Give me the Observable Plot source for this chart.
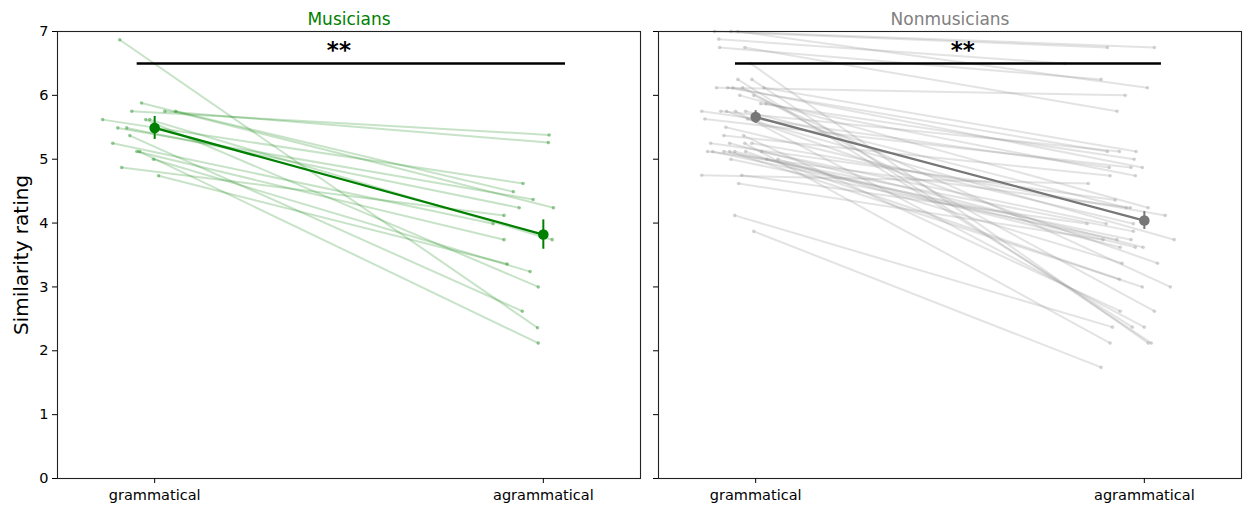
<!DOCTYPE html>
<html>
<head>
<meta charset="utf-8">
<script src="https://cdn.jsdelivr.net/npm/d3@7"></script>
<script src="https://cdn.jsdelivr.net/npm/@observablehq/plot@0.6"></script>
<style>
  html, body { margin: 0; padding: 0; background: #fff; }
  #wrap { position: relative; width: 1249px; height: 506px; font-family: "DejaVu Sans", sans-serif; color: #000; }
  #wrap svg { position: absolute; top: 0; }
</style>
</head>
<body>
<div id="wrap"></div>
<script>
// ---- data ----
const conditions = ["grammatical", "agrammatical"];
const yTicks = [0, 1, 2, 3, 4, 5, 6, 7];

// Musicians: per-subject ratings and horizontal jitter (x units)
const musGram = [6.87, 5.88, 5.75, 5.75, 5.75, 5.62, 5.62, 5.62, 5.49, 5.49, 5.37, 5.25, 5.12, 5.12, 5.0, 4.87, 4.74];
const musAgram = [2.36, 4.24, 5.38, 5.26, 4.49, 4.62, 3.0, 3.74, 4.37, 4.24, 2.62, 3.99, 3.74, 2.12, 3.24, 4.12, 3.36];
const musGramJit = [-0.090, -0.034, -0.059, 0.026, 0.054, -0.134, -0.023, -0.013, -0.095, -0.072, -0.064, -0.108, -0.046, -0.039, -0.003, -0.085, 0.010];
const musAgramJit = [-0.015, 0.026, 0.015, 0.013, -0.077, -0.052, -0.013, 0.023, -0.026, -0.062, -0.054, -0.129, -0.101, -0.013, -0.034, -0.101, -0.093];
const musMean = [5.49, 3.82];
const musErr = [0.18, 0.23];

// Nonmusicians
const nonGram = [7.0, 7.0, 7.0, 6.88, 6.75, 6.75, 6.5, 6.25, 6.25, 6.12, 6.12, 6.12, 6.12, 6.12, 6.0, 6.0, 5.87, 5.87,
  5.75, 5.75, 5.75, 5.75, 5.75, 5.63, 5.63, 5.5, 5.37, 5.37, 5.25, 5.25, 5.25, 5.25, 5.12, 5.12, 5.12, 5.12, 5.12, 5.12, 5.12,
  5.0, 5.0, 5.0, 4.75, 4.75, 4.62, 4.12, 3.87];
const nonAgram = [6.75, 6.75, 6.12, 6.5, 6.25, 5.75, 2.12, 2.37, 2.12, 6.0, 5.12, 4.87, 2.62, 5.12, 4.24, 3.0, 5.0, 4.74,
  4.87, 5.12, 3.37, 2.37, 4.24, 4.87, 3.74, 3.99, 4.74, 2.62, 4.36, 3.62, 2.12, 4.12, 4.24, 3.74, 3.87, 3.0, 3.62, 3.12, 3.99,
  3.74, 3.62, 3.37, 4.62, 3.99, 3.74, 2.37, 1.74];
const nonGramJit = [-0.106, -0.064, -0.046, -0.095, -0.093, -0.028, -0.013, -0.046, -0.010, -0.101, -0.072, -0.059, -0.034, 0.021, -0.041, -0.005, 0.013, 0.026,
  -0.139, -0.090, -0.075, -0.052, -0.026, -0.131, -0.021, -0.077, -0.082, -0.031, -0.116, -0.067, -0.028, -0.010, -0.124, -0.111, -0.082, -0.067, -0.054, -0.026, 0.015,
  -0.064, 0.028, 0.057, -0.139, -0.036, -0.044, -0.054, -0.005];
const nonAgramJit = [-0.095, 0.026, 0.008, -0.204, -0.111, -0.070, 0.010, -0.031, 0.018, -0.049, -0.095, -0.005, 0.026, -0.021, 0.010, 0.067, -0.026, -0.023,
  -0.090, -0.064, 0.034, 0.000, -0.046, -0.034, 0.077, -0.028, -0.088, -0.062, -0.075, -0.003, -0.088, 0.054, -0.036, -0.034, -0.028, -0.005, -0.023, -0.064, -0.098,
  -0.070, -0.062, -0.057, -0.144, -0.147, -0.106, -0.082, -0.111];
const nonMean = [5.66, 4.04];
const nonErr = [0.10, 0.14];

const sigLabel = "**";
const yLabel = "Similarity rating";

// ---- drawing ----
function panel(o) {
  const n = o.gram.length;
  const subj = d3.range(n).map(i => ({
    x1: o.gj[i], y1: o.gram[i], x2: 1 + o.aj[i], y2: o.agram[i]
  }));
  const ends = subj.flatMap(d => [{x: d.x1, y: d.y1}, {x: d.x2, y: d.y2}]);
  const means = conditions.map((c, i) => ({x: i, y: o.mean[i], lo: o.mean[i] - o.err[i], hi: o.mean[i] + o.err[i]}));
  return Plot.plot({
    width: o.width, height: 506,
    marginLeft: o.ml, marginRight: o.mr, marginTop: 31, marginBottom: 28,
    style: {fontFamily: "DejaVu Sans, sans-serif", fontSize: "14px", background: "white", overflow: "visible"},
    x: {domain: [-0.25, 1.25], axis: null},
    y: {domain: [0, 7], axis: null},
    marks: [
      Plot.link(subj, {x1: "x1", y1: "y1", x2: "x2", y2: "y2", stroke: o.color, strokeOpacity: o.alpha, strokeWidth: 2}),
      Plot.dot(ends, {x: "x", y: "y", r: 1.8, fill: o.color, fillOpacity: 0.4, stroke: "none"}),
      Plot.line(means, {x: "x", y: "y", stroke: o.dark, strokeWidth: 2.3}),
      Plot.ruleX(means, {x: "x", y1: "lo", y2: "hi", stroke: o.dark, strokeWidth: 2}),
      Plot.dot(means, {x: "x", y: "y", r: 5.3, fill: o.dark, stroke: "none"}),
      Plot.ruleY([6.5], {x1: o.barX1, x2: o.barX2, stroke: "black", strokeWidth: 2.5}),
      Plot.text([sigLabel], {x: o.starX, y: 6.5, dy: -13, fontSize: 23, fontWeight: "bold", fill: "black"}),
      Plot.frame({stroke: "#222", strokeWidth: 1.1}),
      Plot.axisX({ticks: [0, 1], tickFormat: d => conditions[d], tickSize: 5, tickPadding: 6, fontSize: 14.5, label: null}),
      Plot.axisY({ticks: yTicks, tickFormat: o.yLabels ? (d => String(d)) : () => "", tickSize: 5, tickPadding: 4, fontSize: 14.5, label: null}),
      Plot.text([o.title], {frameAnchor: "top", lineAnchor: "bottom", dy: -7, fill: o.titleColor, fontSize: 17}),
      ...(o.yLabels ? [Plot.text([yLabel], {frameAnchor: "left", textAnchor: "middle", dx: -36, rotate: -90, fontSize: 20, fill: "black"})] : [])
    ]
  });
}

const wrap = document.getElementById("wrap");
const left = panel({
  gram: musGram, agram: musAgram, gj: musGramJit, aj: musAgramJit,
  mean: musMean, err: musErr, color: "green", dark: "green", titleColor: "green", alpha: 0.22,
  title: "Musicians", width: 645, ml: 57, mr: 5, yLabels: true,
  barX1: -0.045, barX2: 1.057, starX: 0.474
});
left.style.left = "0px";
wrap.appendChild(left);

const right = panel({
  gram: nonGram, agram: nonAgram, gj: nonGramJit, aj: nonAgramJit,
  mean: nonMean, err: nonErr, color: "#999999", dark: "#777777", titleColor: "#808080", alpha: 0.27,
  title: "Nonmusicians", width: 604, ml: 13, mr: 8, yLabels: false,
  barX1: -0.052, barX2: 1.044, starX: 0.533
});
right.style.left = "645px";
wrap.appendChild(right);
</script>
</body>
</html>
